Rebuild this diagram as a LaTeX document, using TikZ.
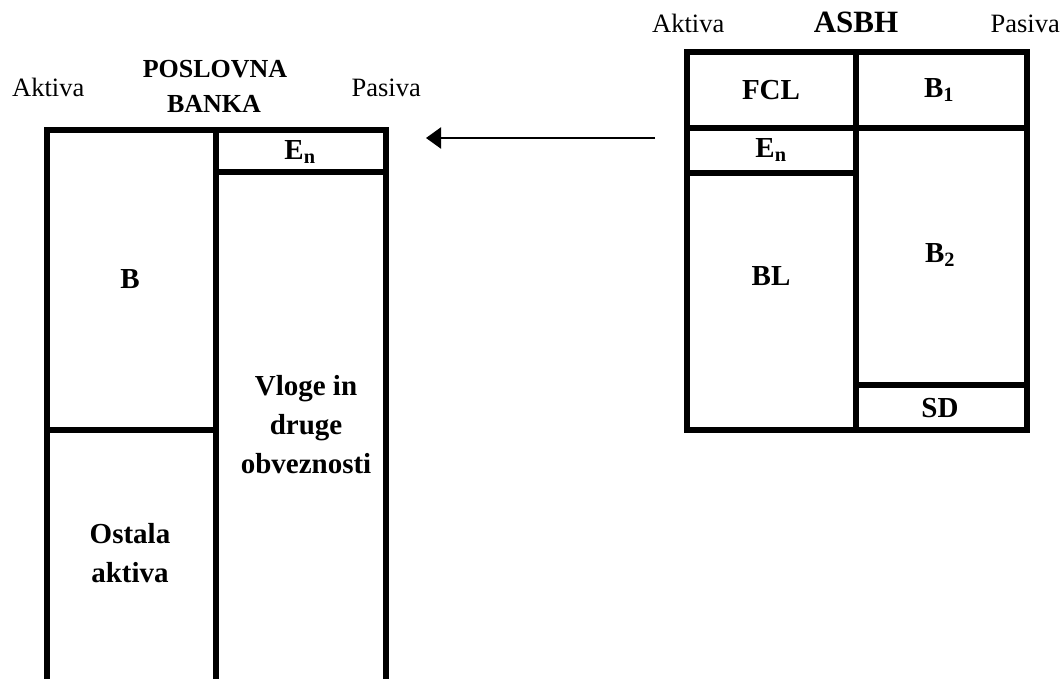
\documentclass[tikz,border=0pt]{standalone}
\usepackage{fontspec}
\setmainfont{Liberation Serif}
\usetikzlibrary{arrows.meta}
\tikzset{
  cell/.style={draw, line width=5.5pt, inner sep=0pt, outer sep=0pt},
  lbl/.style={font=\fontsize{29}{39}\selectfont\bfseries, align=center, inner sep=0pt},
  side/.style={font=\fontsize{26.5}{30}\selectfont, inner sep=0pt},
  conn/.style={line width=2.2pt, -{Triangle[length=15pt,width=21pt]}}
}
\begin{document}
\begin{tikzpicture}[x=1pt,y=-1pt]
\useasboundingbox (0,0) rectangle (1064,679);
\clip (0,0) rectangle (1064,679);
% Poslovna banka
\node[cell, minimum width=169pt, minimum height=300pt] (B) at (131.5,280) {};
\node[cell, minimum width=169pt, minimum height=290pt] (Ost) at (131.5,575) {};
\node[cell, minimum width=170pt, minimum height=42pt] (EnL) at (301,151) {};
\node[cell, minimum width=170pt, minimum height=548pt] (Vl) at (301,446) {};
\node[lbl] (tB) at (130,279) {B};
\node[lbl] (tOst) at (130,553) {Ostala\\aktiva};
\node[lbl] (tVl) at (306,425) {Vloge in\\druge\\obveznosti};
\node[lbl] (tEnL) at (300,152) {E\textsubscript{n}};
\node[side, anchor=base west] (akL) at (12,97) {Aktiva};
\node[side, anchor=base east] (paL) at (421,97) {Pasiva};
\node[font=\fontsize{26}{35}\selectfont\bfseries, anchor=base, inner sep=0pt] (pos1) at (215,78) {POSLOVNA};
\node[font=\fontsize{26}{35}\selectfont\bfseries, anchor=base, inner sep=0pt] (pos2) at (214,113) {BANKA};
% ASBH
\node[cell, minimum width=169pt, minimum height=76pt] (FCL) at (771.5,90) {};
\node[cell, minimum width=171pt, minimum height=76pt] (B1) at (941.5,90) {};
\node[cell, minimum width=169pt, minimum height=45pt] (EnR) at (771.5,150.5) {};
\node[cell, minimum width=169pt, minimum height=257pt] (BL) at (771.5,301.5) {};
\node[cell, minimum width=171pt, minimum height=257pt] (B2) at (941.5,256.5) {};
\node[cell, minimum width=171pt, minimum height=45pt] (SD) at (941.5,407.5) {};
\node[lbl] (tFCL) at (771,90) {FCL};
\node[lbl] (tB1) at (939,90) {B\textsubscript{1}};
\node[lbl] (tEnR) at (771,150) {E\textsubscript{n}};
\node[lbl] (tBL) at (771,276) {BL};
\node[lbl] (tB2) at (940,255) {B\textsubscript{2}};
\node[lbl] (tSD) at (940,408) {SD};
\node[side, anchor=base west] (akR) at (652,33) {Aktiva};
\node[side, anchor=base east] (paR) at (1060,33) {Pasiva};
\node[font=\fontsize{31}{35}\selectfont\bfseries, anchor=base, inner sep=0pt] (asbh) at (856,33) {ASBH};
% arrow
\coordinate (arS) at (655,138);
\coordinate (arE) at (426,138);
\draw[conn] (arS) -- (arE);
\end{tikzpicture}
\end{document}
